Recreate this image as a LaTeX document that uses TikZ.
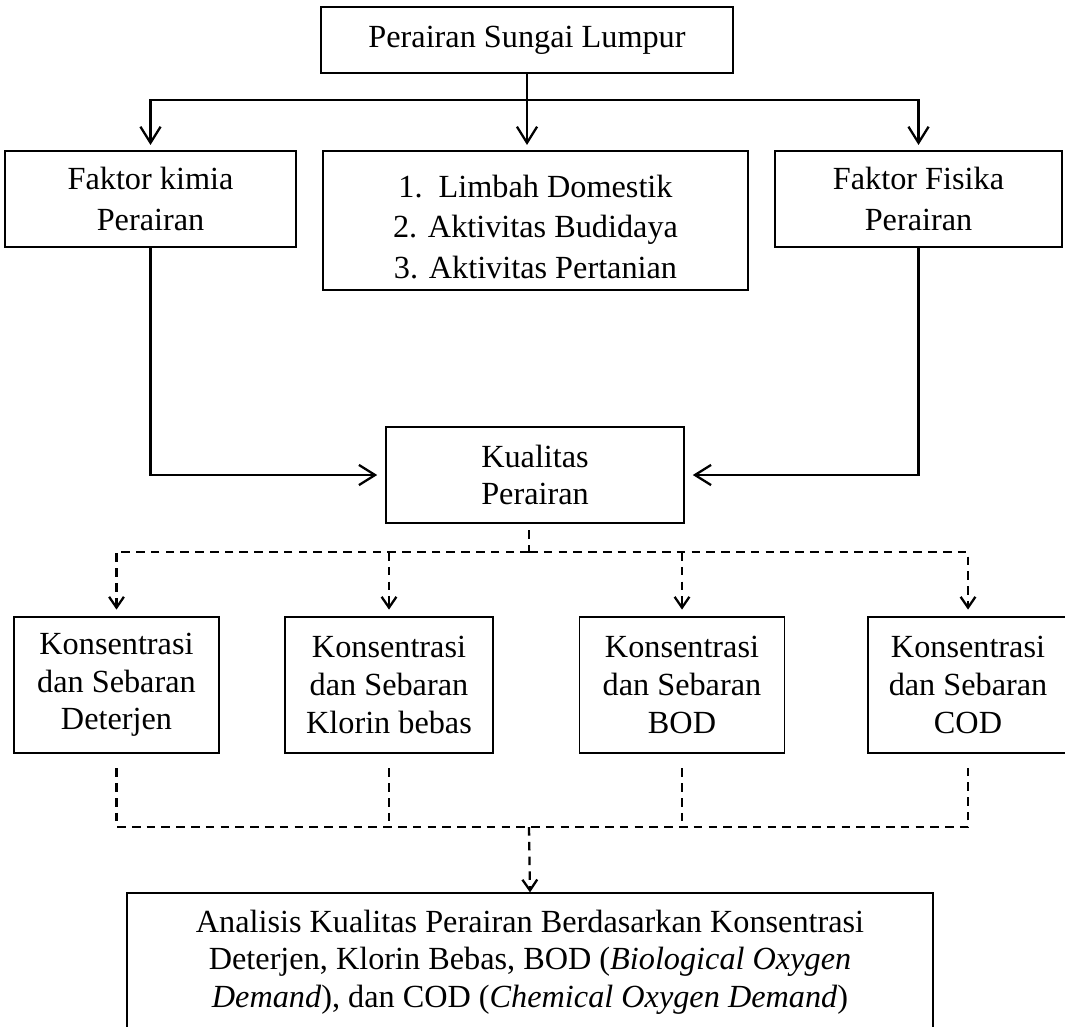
\documentclass[tikz,border=0pt]{standalone}
\usepackage{fontspec}
\setmainfont{Liberation Serif}
\usepackage{tikz}
\usetikzlibrary{arrows.meta}

\begin{document}
\begin{tikzpicture}[x=0.372pt,y=-0.372pt,
    kotak/.style={draw,line width=.5pt,inner sep=0pt,align=center,
      font=\fontsize{12pt}{14pt}\selectfont},
    panah/.style={line width=.85pt,-{Straight Barb[length=6pt,width=7.5pt]},shorten >=2pt},
    putus/.style={line width=.85pt,dash pattern=on 3.2pt off 2.3pt},
    putusarr/.style={putus,-{Straight Barb[length=4pt,width=5.5pt]}}]
    \useasboundingbox (0,0) rectangle (1065,1026);
    % baris atas
    \node[kotak,minimum width=153.3pt,minimum height=24.6pt] (sungai) at (527,40) {Perairan Sungai Lumpur};
    \node[kotak,minimum width=108.3pt,minimum height=35.7pt] (kimia) at (150.5,199) {Faktor kimia\\[1pt] Perairan};
    \node[kotak,minimum width=158.1pt,minimum height=51.7pt] (limbah) at (535.5,220.5)
      {\rule{0pt}{13pt}1.\ \ Limbah Domestik\\[1pt] 2. Aktivitas Budidaya\\[1pt] 3. Aktivitas Pertanian};
    \node[kotak,minimum width=106.8pt,minimum height=35.7pt] (fisika) at (918.5,199) {Faktor Fisika\\[1pt] Perairan};
    \node[kotak,minimum width=110.9pt,minimum height=35.7pt] (kualitas) at (535,475) {Kualitas\\ Perairan};
    % baris konsentrasi
    \node[kotak,minimum width=76.3pt,minimum height=50.6pt] (deterjen) at (116.5,685) {Konsentrasi\\ dan Sebaran\\ Deterjen};
    \node[kotak,minimum width=77.4pt,minimum height=50.6pt] (klorin) at (389,685) {Konsentrasi\\ dan Sebaran\\ Klorin bebas};
    \node[kotak,minimum width=76.3pt,minimum height=50.6pt] (bod) at (682,685) {Konsentrasi\\ dan Sebaran\\ BOD};
    \node[kotak,minimum width=74.4pt,minimum height=50.6pt] (cod) at (968,685) {Konsentrasi\\ dan Sebaran\\ COD};
    \node[kotak,minimum width=299.8pt,minimum height=51.3pt] (analisis) at (530,962)
      {Analisis Kualitas Perairan Berdasarkan Konsentrasi\\
       Deterjen, Klorin Bebas, BOD (\textit{Biological Oxygen}\\
       \textit{Demand}), dan COD (\textit{Chemical Oxygen Demand})};
    \coordinate (cabang) at (527,100);
    \coordinate (cabangq) at (529,552);
    \coordinate (gabung) at (529,827);
    % garis penuh
    \draw[line width=.85pt] (sungai.south) -- (cabang);
    \draw[panah] (cabang) -- (cabang |- limbah.north);
    \draw[panah] (cabang) -| (kimia.north);
    \draw[panah] (cabang) -| (fisika.north);
    \draw[panah,shorten >=3pt] (kimia.south) |- (kualitas.west);
    \draw[panah,shorten >=3pt] (fisika.south) |- (kualitas.west -| kualitas.east);
    % garis putus-putus
    \draw[putus,shorten <=2.5pt] (cabangq |- kualitas.south) -- (cabangq);
    \draw[putusarr,shorten >=2.5pt] (cabangq) -| (deterjen.north);
    \draw[putusarr,shorten >=2.5pt] (cabangq) -| (cod.north);
    \draw[putus,shorten <=5.5pt,shorten >=5.5pt] (deterjen.south) |- (cod.south |- gabung) -- (cod.south);
    \foreach \k in {klorin,bod}{
      \draw[putusarr,shorten >=2.5pt] (\k.north |- cabangq) -- (\k.north);
      \draw[putus,shorten <=5.5pt] (\k.south) -- (\k.south |- gabung);
    }
    \draw[putusarr] (gabung) -- (analisis.north);
\end{tikzpicture}
\end{document}
